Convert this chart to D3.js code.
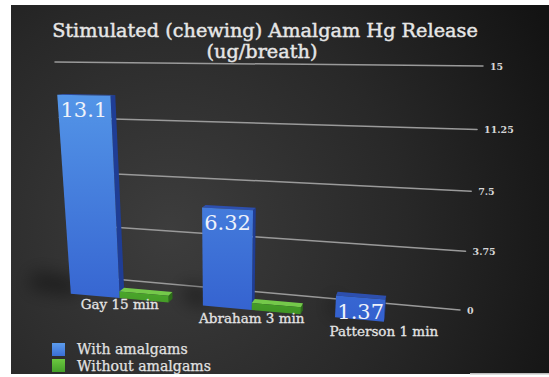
<!DOCTYPE html>
<html>
<head>
<meta charset="utf-8">
<script src="https://cdn.jsdelivr.net/npm/d3@7"></script>
<style>
  html, body { margin: 0; padding: 0; background: #fff; }
  svg { display: block; }
</style>
</head>
<body>
<svg id="chart" width="549" height="377"></svg>
<script>
// ---- data ----
const categories = ["Gay 15 min", "Abraham 3 min", "Patterson 1 min"];
const seriesNames = ["With amalgams", "Without amalgams"];
const withAmalgams = [13.1, 6.32, 1.37];
const withoutAmalgams = [0.45, 0.45, 0];
const yTicks = [0, 3.75, 7.5, 11.25, 15];
const tickLabels = ["0", "3.75", "7.5", "11.25", "15"];
const titleLines = ["Stimulated (chewing) Amalgam Hg Release", "(ug/breath)"];

const FONT = "'DejaVu Serif', 'Liberation Serif', serif";
const svg = d3.select("#chart");
const defs = svg.append("defs");

// ---- background panel ----
const bg = defs.append("radialGradient").attr("id", "bgGrad")
  .attr("gradientUnits", "userSpaceOnUse")
  .attr("cx", 170).attr("cy", 230).attr("r", 430);
bg.append("stop").attr("offset", 0).attr("stop-color", "#3d3d3d");
bg.append("stop").attr("offset", 0.55).attr("stop-color", "#282828");
bg.append("stop").attr("offset", 1).attr("stop-color", "#131313");
svg.append("rect").attr("x", 11).attr("y", 5).attr("width", 538).attr("height", 369)
  .attr("fill", "url(#bgGrad)");

// ---- perspective model ----
// back wall quad: (u, t) -> screen, t is the normalised value
const wall = { p00: [72, 275.3], p10: [460, 310], p11: [483, 66], p01: [55, 62] };
const eye = [450, 28];               // vanishing point of the depth direction
const kFront = 1.066, kBack = 1.051; // depth of bar front / back faces

const u = d3.scaleBand(categories, [0, 0.99]).paddingInner(0.26).paddingOuter(0.18);
const s = d3.scaleBand(seriesNames, [0, u.bandwidth()]);
const v = d3.scaleLinear().domain([0, 15]).range([0, 1]);
const warp = t => t * 0.95 / (1 - 0.05 * t);

function wallPt(uu, val) {
  const t = warp(v(val));
  const { p00, p10, p11, p01 } = wall;
  const a = (1 - uu) * (1 - t), b = uu * (1 - t), c = uu * t, d = (1 - uu) * t;
  return [a * p00[0] + b * p10[0] + c * p11[0] + d * p01[0],
          a * p00[1] + b * p10[1] + c * p11[1] + d * p01[1]];
}
function pt(uu, val, k) {
  const p = wallPt(uu, val);
  return [eye[0] + k * (p[0] - eye[0]), eye[1] + k * (p[1] - eye[1])];
}

// ---- gridlines on the back wall ----
const grid = svg.append("g");
yTicks.forEach((tv, i) => {
  const a = wallPt(0, tv), b = wallPt(1, tv);
  grid.append("line")
    .attr("x1", a[0]).attr("y1", a[1]).attr("x2", b[0]).attr("y2", b[1])
    .attr("stroke", "#9a9a9a").attr("stroke-width", 1.5).attr("stroke-linecap", "round");
  grid.append("text")
    .attr("x", b[0] + 7).attr("y", b[1] + 3.5)
    .attr("font-family", FONT).attr("font-size", 9.5).attr("font-weight", "bold")
    .attr("fill", "#d6d6d6")
    .text(tickLabels[i]);
});

// ---- gradients for bars ----
function vGrad(id, c0, c1, y0, y1) {
  const g = defs.append("linearGradient").attr("id", id)
    .attr("gradientUnits", "userSpaceOnUse")
    .attr("x1", 0).attr("y1", y0).attr("x2", 0).attr("y2", y1);
  g.append("stop").attr("offset", 0).attr("stop-color", c0);
  g.append("stop").attr("offset", 1).attr("stop-color", c1);
}
vGrad("blueFront", "#5496e8", "#3461cf", 90, 320);
vGrad("greenFront", "#4fae2e", "#3c8f22", 280, 320);
vGrad("legBlue", "#5c9cec", "#3a6fd6", 343, 356);
vGrad("legGreen", "#6cc840", "#45a02a", 359, 372);

const styles = [
  { front: "url(#blueFront)", side: "#1f3d95", top: "#2d4fae" },
  { front: "url(#greenFront)", side: "#2c6e18", top: "#74c94a" }
];

// soft floor shadows
const blur = defs.append("filter").attr("id", "soft").attr("x", "-50%").attr("y", "-50%")
  .attr("width", "200%").attr("height", "200%");
blur.append("feGaussianBlur").attr("stdDeviation", 9);

const shadowG = svg.append("g").attr("filter", "url(#soft)");
categories.forEach((cat, i) => {
  const u0 = u(cat) + s(seriesNames[0]);
  const h = withAmalgams[i];
  const p0 = pt(u0, 0, kFront), p1 = pt(u0, 0, kBack);
  const reach = h * 3.2;
  shadowG.append("path")
    .attr("d", d3.line()([[p0[0] + 4, p0[1] + 2], [p0[0] - reach, p0[1] - 6],
                          [p1[0] - reach, p1[1] - 18], [p1[0] + 4, p1[1] - 10]]) + "Z")
    .attr("fill", "#000").attr("opacity", 0.45);
});

// ---- bars ----
const bars = [];
categories.forEach((cat, i) => {
  [withAmalgams[i], withoutAmalgams[i]].forEach((val, j) => {
    if (val > 0) bars.push({ cat, series: seriesNames[j], j, val });
  });
});

const barG = svg.append("g");
const poly = pts => d3.line()(pts) + "Z";
bars.forEach(d => {
  const u0 = u(d.cat) + s(d.series), u1 = u0 + s.bandwidth();
  const st = styles[d.j];
  const g = barG.append("g");
  g.append("path").attr("fill", st.side)
    .attr("d", poly([pt(u1, 0, kFront), pt(u1, d.val, kFront), pt(u1, d.val, kBack), pt(u1, 0, kBack)]));
  g.append("path").attr("fill", st.top)
    .attr("d", poly([pt(u0, d.val, kFront), pt(u1, d.val, kFront), pt(u1, d.val, kBack), pt(u0, d.val, kBack)]));
  g.append("path").attr("fill", st.front)
    .attr("d", poly([pt(u0, 0, kFront), pt(u1, 0, kFront), pt(u1, d.val, kFront), pt(u0, d.val, kFront)]));
});

// value labels on the blue bars
categories.forEach((cat, i) => {
  const u0 = u(cat) + s(seriesNames[0]), u1 = u0 + s.bandwidth();
  const a = pt(u0, withAmalgams[i], kFront), b = pt(u1, withAmalgams[i], kFront);
  svg.append("text")
    .attr("x", (a[0] + b[0]) / 2).attr("y", (a[1] + b[1]) / 2 + 21.5)
    .attr("text-anchor", "middle")
    .attr("font-family", FONT).attr("font-size", 21)
    .attr("fill", "#eef2fa")
    .text(withAmalgams[i]);
});

// category labels along the floor
categories.forEach(cat => {
  const uc = u(cat) + u.bandwidth() / 2;
  const c = pt(uc, 0, kFront);
  svg.append("text")
    .attr("x", c[0]).attr("y", c[1] + 10 + 5.5 * uc)
    .attr("text-anchor", "middle")
    .attr("font-family", FONT).attr("font-size", 13.5)
    .attr("fill", "#e4e4e4").attr("stroke", "#e4e4e4").attr("stroke-width", 0.3)
    .text(cat);
});

// ---- title ----
function fitWidth(sel, target) {
  const w = sel.node().getComputedTextLength();
  const fs = parseFloat(sel.attr("font-size"));
  const nfs = fs * target / w;
  sel.attr("font-size", nfs);
  return nfs;
}
const t1 = svg.append("text")
  .attr("x", 265).attr("y", 37).attr("text-anchor", "middle")
  .attr("font-family", FONT).attr("font-size", 20).attr("fill", "#e6e6e6")
  .attr("stroke", "#e6e6e6").attr("stroke-width", 0.45)
  .text(titleLines[0]);
const tfs = fitWidth(t1, 426);
svg.append("text")
  .attr("x", 262).attr("y", 58).attr("text-anchor", "middle")
  .attr("font-family", FONT).attr("font-size", tfs).attr("fill", "#e6e6e6")
  .attr("stroke", "#e6e6e6").attr("stroke-width", 0.45)
  .text(titleLines[1]);

// ---- legend ----
const legend = svg.append("g");
seriesNames.forEach((name, i) => {
  legend.append("rect")
    .attr("x", 52).attr("y", 343 + i * 16).attr("width", 13).attr("height", 13)
    .attr("fill", i === 0 ? "url(#legBlue)" : "url(#legGreen)");
  const lt = legend.append("text")
    .attr("x", 77).attr("y", 354 + i * 17)
    .attr("font-family", FONT).attr("font-size", 13.5).attr("fill", "#e2e2e2")
    .attr("stroke", "#e2e2e2").attr("stroke-width", 0.25)
    .text(name);
  if (i === 1) fitWidth(lt, 134);
});
legend.selectAll("text").attr("font-size", legend.selectAll("text").nodes()[1].getAttribute("font-size"));

// thin light strip along the lower right edge
svg.append("rect").attr("x", 470).attr("y", 373).attr("width", 79).attr("height", 1.5)
  .attr("fill", "#bdbdbd");
</script>
</body>
</html>
